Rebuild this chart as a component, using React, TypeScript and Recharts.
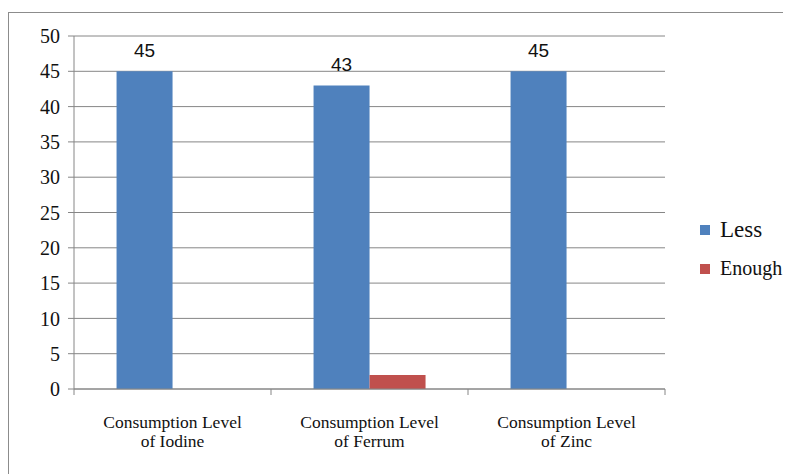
import React from 'react';
import { BarChart, Bar, XAxis, YAxis, CartesianGrid, Legend, LabelList } from 'recharts';

const categoryLines = [
  ['Consumption Level', 'of Iodine'],
  ['Consumption Level', 'of Ferrum'],
  ['Consumption Level', 'of Zinc'],
];
const lessValues = [45, 43, 45];
const enoughValues = [0, 2, 0];
const yTicks = [0, 5, 10, 15, 20, 25, 30, 35, 40, 45, 50];
const seriesNames = ['Less', 'Enough'];
const seriesColors = ['#4F81BD', '#C0504D'];

const data = categoryLines.map((lines, i) => ({
  name: lines.join('|'),
  less: lessValues[i],
  enough: enoughValues[i],
}));

const W = 780;
const H = 470;
const M = { top: 23, right: 124, bottom: 54, left: 0 };
const YW = 65;
const BAND = (W - M.right - YW) / categoryLines.length;
const GRAY = '#868686';
const SERIF = '"Liberation Serif", "Times New Roman", serif';

const XTick = (props: any) => {
  const { x, y, payload, index } = props;
  const lines = String(payload.value).split('|');
  const last = index === categoryLines.length - 1;
  return (
    <g>
      <line x1={x - BAND / 2} y1={y} x2={x - BAND / 2} y2={y + 6} stroke={GRAY} />
      {last && <line x1={x + BAND / 2} y1={y} x2={x + BAND / 2} y2={y + 6} stroke={GRAY} />}
      {lines.map((l, i) => (
        <text key={i} x={x} y={y + 39 + i * 19} textAnchor="middle" fontSize={17.5} fontFamily={SERIF} fill="#111">
          {l}
        </text>
      ))}
    </g>
  );
};

const LegendContent = () => (
  <div style={{ fontFamily: SERIF, color: '#111' }}>
    {seriesNames.map((n, i) => (
      <div key={n} style={{ height: 39, display: 'flex', alignItems: 'center' }}>
        <span style={{ width: 10, height: 10, background: seriesColors[i], display: 'inline-block', marginRight: 10 }} />
        <span style={{ fontSize: i === 0 ? 23 : 20 }}>{n}</span>
      </div>
    ))}
  </div>
);

export default function App() {
  return (
    <div style={{ marginTop: 4, width: W, height: H, border: '1px solid #8c8c8c', background: '#fff', position: 'relative' }}>
      <BarChart width={W} height={H} data={data} margin={M} barCategoryGap="21.6%" barGap={0}>
        <CartesianGrid vertical={false} stroke={GRAY} strokeDasharray="" />
        <XAxis
          dataKey="name"
          stroke={GRAY}
          tickLine={false}
          tickSize={0}
          tickMargin={0}
          height={40}
          interval={0}
          tick={<XTick />}
        />
        <YAxis
          width={YW}
          domain={[0, 50]}
          ticks={yTicks}
          interval={0}
          stroke={GRAY}
          tickSize={6}
          tickMargin={8}
          tick={{ fill: '#111', fontSize: 20, fontFamily: SERIF }}
        />
        <Legend
          layout="horizontal"
          verticalAlign="middle"
          align="center"
          content={<LegendContent />}
          wrapperStyle={{ left: 691, top: 197, width: 100 }}
        />
        <Bar dataKey="less" name={seriesNames[0]} fill={seriesColors[0]} isAnimationActive={false}>
          <LabelList dataKey="less" position="top" offset={14} fill="#111" fontSize={19} fontFamily='"Liberation Sans", Arial, sans-serif' />
        </Bar>
        <Bar dataKey="enough" name={seriesNames[1]} fill={seriesColors[1]} isAnimationActive={false} />
      </BarChart>
    </div>
  );
}
